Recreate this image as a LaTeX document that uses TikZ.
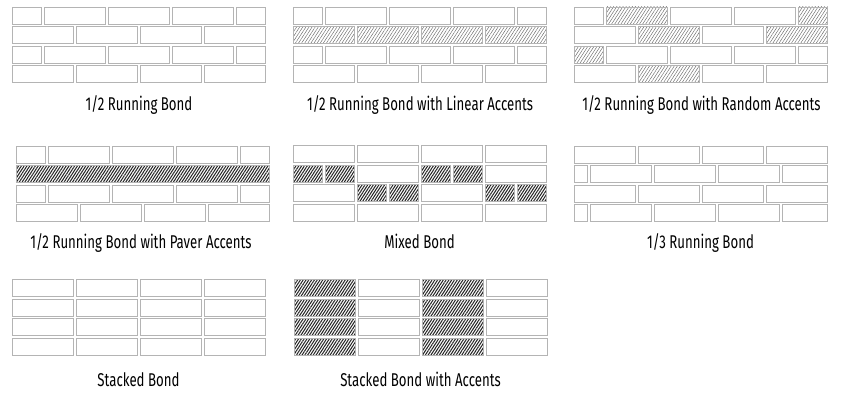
\documentclass[tikz,border=0pt]{standalone}
\usepackage{fontspec}
\setmainfont[FakeStretch=0.715]{Fira Sans}
\usetikzlibrary{patterns.meta}
\tikzset{
  brick/.style={draw={rgb,255:red,180;green,180;blue,180}, line width=0.9pt},
  brickplain/.style={fill=white},
  bricklite/.style={pattern={Lines[angle=57,distance=2.6pt,line width=0.45pt]}, pattern color={rgb,255:red,105;green,105;blue,105}},
  brickdark/.style={pattern={Lines[angle=57,distance=2.35pt,line width=1.05pt]}, pattern color=black!85},
  lbl/.style={anchor=base, font=\fontsize{18.5}{20}\selectfont, inner sep=0pt}
}
\newcommand\bk[4]{\draw[brick,#1] (#2,#3) rectangle ++(#4,17);}
\newcommand\offrow[7]{\bk{#3}{#1}{#2}{29}\bk{#4}{#1+32}{#2}{61}\bk{#5}{#1+96}{#2}{61}\bk{#6}{#1+160}{#2}{61}\bk{#7}{#1+224}{#2}{29}}
\newcommand\alrow[6]{\bk{#3}{#1}{#2}{61}\bk{#4}{#1+64}{#2}{61}\bk{#5}{#1+128}{#2}{61}\bk{#6}{#1+192}{#2}{61}}
\newcommand\thirdrow[2]{\bk{brickplain}{#1}{#2}{13.7}\bk{brickplain}{#1+16}{#2}{61}\bk{brickplain}{#1+80}{#2}{61}\bk{brickplain}{#1+144}{#2}{61}\bk{brickplain}{#1+208}{#2}{45}}
\begin{document}
\begin{tikzpicture}[x=1pt,y=-1pt]
\useasboundingbox (0,0) rectangle (843,393);
\fill[white] (0,0) rectangle (843,393);
% Panel 1: 1/2 Running Bond
\offrow{12}{7}{brickplain}{brickplain}{brickplain}{brickplain}{brickplain}
\alrow{12}{26.6}{brickplain}{brickplain}{brickplain}{brickplain}
\offrow{12}{46.2}{brickplain}{brickplain}{brickplain}{brickplain}{brickplain}
\alrow{12}{65.8}{brickplain}{brickplain}{brickplain}{brickplain}
\node[lbl] (l1) at (139,110.5) {1/2 Running Bond};
% Panel 2: Linear accents
\offrow{293.5}{7}{brickplain}{brickplain}{brickplain}{brickplain}{brickplain}
\alrow{293.5}{26.6}{bricklite}{bricklite}{bricklite}{bricklite}
\offrow{293.5}{46.2}{brickplain}{brickplain}{brickplain}{brickplain}{brickplain}
\alrow{293.5}{65.8}{brickplain}{brickplain}{brickplain}{brickplain}
\node[lbl] (l2) at (420,110.5) {1/2 Running Bond with Linear Accents};
% Panel 3: Random accents
\offrow{574.5}{7}{brickplain}{bricklite}{brickplain}{brickplain}{bricklite}
\alrow{574.5}{26.6}{brickplain}{bricklite}{brickplain}{bricklite}
\offrow{574.5}{46.2}{bricklite}{brickplain}{brickplain}{brickplain}{brickplain}
\alrow{574.5}{65.8}{brickplain}{bricklite}{brickplain}{brickplain}
\node[lbl] (l3) at (701.5,110.5) {1/2 Running Bond with Random Accents};
% Panel 4: Paver accents
\offrow{16}{146}{brickplain}{brickplain}{brickplain}{brickplain}{brickplain}
\draw[brick,brickdark] (16,165.6) rectangle ++(253,17);
\offrow{16}{185.2}{brickplain}{brickplain}{brickplain}{brickplain}{brickplain}
\alrow{16}{204.8}{brickplain}{brickplain}{brickplain}{brickplain}
\node[lbl] (l4) at (141,248.5) {1/2 Running Bond with Paver Accents};
% Panel 5: Mixed bond
\alrow{293}{145.5}{brickplain}{brickplain}{brickplain}{brickplain}
\bk{brickdark}{293}{165.1}{29}\bk{brickdark}{325}{165.1}{29}\bk{brickplain}{357}{165.1}{61}
\bk{brickdark}{421}{165.1}{29}\bk{brickdark}{453}{165.1}{29}\bk{brickplain}{485}{165.1}{61}
\bk{brickplain}{293}{184.7}{61}\bk{brickdark}{357}{184.7}{29}\bk{brickdark}{389}{184.7}{29}
\bk{brickplain}{421}{184.7}{61}\bk{brickdark}{485}{184.7}{29}\bk{brickdark}{517}{184.7}{29}
\alrow{293}{204.3}{brickplain}{brickplain}{brickplain}{brickplain}
\node[lbl] (l5) at (419.5,248.5) {Mixed Bond};
% Panel 6: 1/3 Running Bond
\alrow{574}{146}{brickplain}{brickplain}{brickplain}{brickplain}
\thirdrow{574}{165.6}
\alrow{574}{185.2}{brickplain}{brickplain}{brickplain}{brickplain}
\thirdrow{574}{204.8}
\node[lbl] (l6) at (700.5,248.5) {1/3 Running Bond};
% Panel 7: Stacked Bond
\alrow{12}{279.5}{brickplain}{brickplain}{brickplain}{brickplain}
\alrow{12}{299.1}{brickplain}{brickplain}{brickplain}{brickplain}
\alrow{12}{318.7}{brickplain}{brickplain}{brickplain}{brickplain}
\alrow{12}{338.3}{brickplain}{brickplain}{brickplain}{brickplain}
\node[lbl] (l7) at (138.5,386.5) {Stacked Bond};
% Panel 8: Stacked Bond with Accents
\alrow{294}{279.5}{brickdark}{brickplain}{brickdark}{brickplain}
\alrow{294}{299.1}{brickdark}{brickplain}{brickdark}{brickplain}
\alrow{294}{318.7}{brickdark}{brickplain}{brickdark}{brickplain}
\alrow{294}{338.3}{brickdark}{brickplain}{brickdark}{brickplain}
\node[lbl] (l8) at (420.5,386.5) {Stacked Bond with Accents};
\end{tikzpicture}
\end{document}
